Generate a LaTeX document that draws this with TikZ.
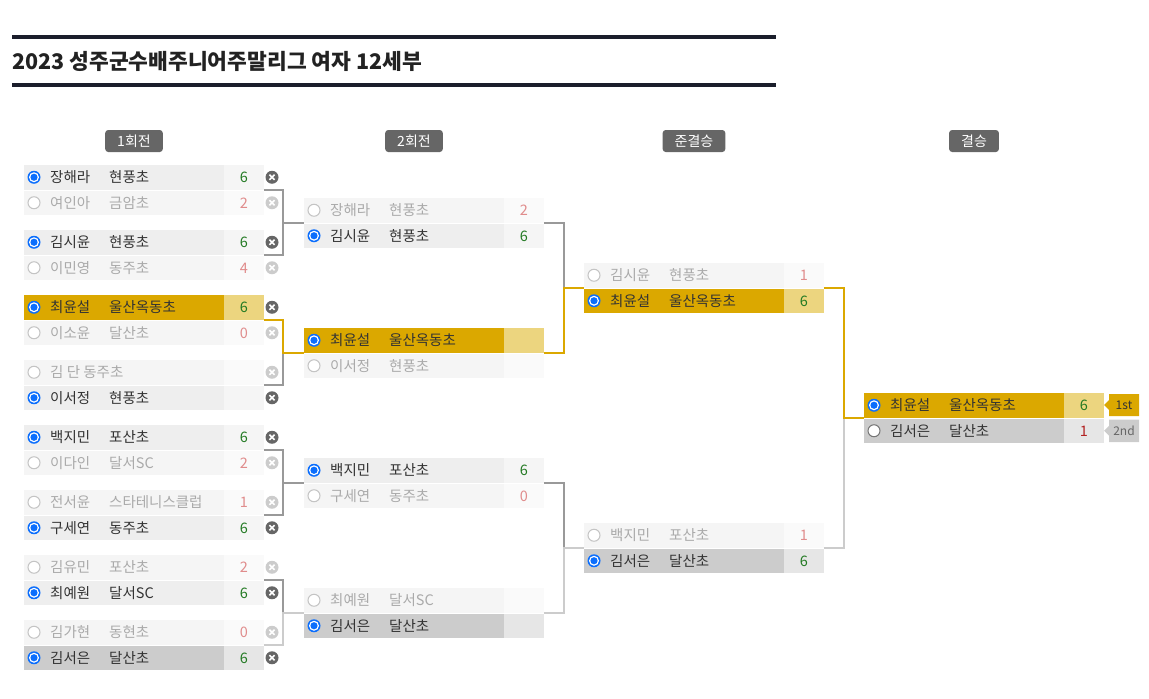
\documentclass[tikz,border=0pt]{standalone}
\usepackage{fontspec}
\setmainfont{Noto Sans CJK KR}
\definecolor{gold}{HTML}{DBA800}
\definecolor{goldl}{HTML}{ECD57F}
\definecolor{wbg}{HTML}{EEEEEE}
\definecolor{wsc}{HTML}{F5F5F5}
\definecolor{lbg}{HTML}{F5F5F5}
\definecolor{lsc}{HTML}{FAFAFA}
\definecolor{sbg}{HTML}{CCCCCC}
\definecolor{ssc}{HTML}{E6E6E6}
\definecolor{txt}{HTML}{333333}
\definecolor{ltxt}{HTML}{AAAAAA}
\definecolor{win}{HTML}{237A23}
\definecolor{lose}{HTML}{E08C8C}
\definecolor{losed}{HTML}{B22222}
\definecolor{rblue}{HTML}{0B6EFD}
\definecolor{radL}{HTML}{C4C4C4}
\definecolor{radD}{HTML}{767676}
\definecolor{cgray}{HTML}{999999}
\definecolor{connl}{HTML}{CCCCCC}
\definecolor{lbl}{HTML}{666666}
\definecolor{xd}{HTML}{666666}
\definecolor{xl}{HTML}{CCCCCC}
\definecolor{navy}{HTML}{1B1E2B}
\definecolor{ttl}{HTML}{222222}
\newcommand\setW{\def\nbg{wbg}\def\sbgc{wsc}\def\tc{txt}\def\scc{win}\def\rstyle{1}\def\rcol{radL}}
\newcommand\setL{\def\nbg{lbg}\def\sbgc{lsc}\def\tc{ltxt}\def\scc{lose}\def\rstyle{0}\def\rcol{radL}}
\newcommand\setG{\def\nbg{gold}\def\sbgc{goldl}\def\tc{txt}\def\scc{win}\def\rstyle{1}\def\rcol{radL}}
\newcommand\setS{\def\nbg{sbg}\def\sbgc{ssc}\def\tc{txt}\def\scc{win}\def\rstyle{1}\def\rcol{radL}}
\newcommand\setF{\def\nbg{sbg}\def\sbgc{ssc}\def\tc{txt}\def\scc{losed}\def\rstyle{0}\def\rcol{radD}}
\newcommand\radioC[2]{\fill[rblue] (#1,#2) circle (6.5); \fill[white] (#1,#2) circle (5); \fill[rblue] (#1,#2) circle (3.6);}
\newcommand\radioU[3]{\draw[#3, fill=white, line width=1] (#1,#2) circle (6);}
\newcommand\xicon[3]{\fill[#3] (#1,#2) circle (6.5);
  \draw[white, line width=1.7] (#1-2.6,#2-2.6) -- (#1+2.6,#2+2.6) (#1-2.6,#2+2.6) -- (#1+2.6,#2-2.6);}
\newcommand\prow[8]{%
  \csname set#4\endcsname
  \node[cell, fill=\nbg, minimum width=200] (#1) at (#2,#3) {};
  \node[cell, fill=\sbgc, minimum width=40] (#1s) at (#2+200,#3) {};
  \ifnum\rstyle=1 \radioC{#2+10}{#3+12.25}\else\radioU{#2+10}{#3+12.25}{\rcol}\fi
  \node[nm, text=\tc] (#1n) at (#2+26,#3+17.5) {#5};
  \node[nm, text=\tc] (#1t) at (#2+85,#3+17.5) {#6};
  \node[sc, text=\scc] (#1v) at (#2+220,#3+17.5) {#7};
  \ifcase#8 \xicon{#2+248}{#3+12.25}{xl}\or\xicon{#2+248}{#3+12.25}{xd}\else\fi
}
\tikzset{
  cell/.style={inner sep=0, outer sep=0, minimum height=24.5, anchor=north west},
  nm/.style={font=\fontsize{14.5}{17}\selectfont, inner sep=0, anchor=base west},
  sc/.style={font=\fontsize{14.5}{17}\selectfont, inner sep=0, anchor=base},
  mbox/.style={inner sep=0, outer sep=0, minimum width=240, minimum height=50, anchor=north west},
  cg/.style={draw=cgray, line width=2},
  cgo/.style={draw=gold, line width=2},
  clt/.style={draw=connl, line width=2},
  rlabel/.style={fill=lbl, text=white, rounded corners=3, inner xsep=12, inner ysep=0, minimum height=22, font=\fontsize{14}{16}\selectfont},
  tagtxt/.style={font=\fontsize{12}{14}\selectfont, inner sep=0},
}
\begin{document}
\begin{tikzpicture}[x=1pt, y=-1pt]
\useasboundingbox (0,0) rectangle (1149,699);
% title
\draw[navy, line width=3.5] (12,37) -- (776,37);
\draw[navy, line width=3.5] (12,85) -- (776,85);
\node[anchor=base west, inner sep=0, text=ttl, font=\fontsize{21.5}{25}\selectfont\bfseries] (title) at (12,69) {2023 성주군수배주니어주말리그 여자 12세부};
% round labels
\node[rlabel] (L1) at (134,141) {1회전};
\node[rlabel] (L2) at (414,141) {2회전};
\node[rlabel] (L3) at (694,141) {준결승};
\node[rlabel] (L4) at (974,141) {결승};
% match boxes
\node[mbox] (A1) at (24,165) {};
\node[mbox] (A2) at (24,230) {};
\node[mbox] (A3) at (24,295) {};
\node[mbox] (A4) at (24,360) {};
\node[mbox] (A5) at (24,425) {};
\node[mbox] (A6) at (24,490) {};
\node[mbox] (A7) at (24,555) {};
\node[mbox] (A8) at (24,620) {};
\node[mbox] (B1) at (304,198) {};
\node[mbox] (B2) at (304,328) {};
\node[mbox] (B3) at (304,458) {};
\node[mbox] (B4) at (304,588) {};
\node[mbox] (C1) at (584,263) {};
\node[mbox] (C2) at (584,523) {};
\node[mbox] (D1) at (864,393) {};
% round 1
\prow{a1a}{24}{165}{W}{장해라}{현풍초}{6}{1}
\prow{a1b}{24}{165+25.5}{L}{여인아}{금암초}{2}{0}
\prow{a2a}{24}{230}{W}{김시윤}{현풍초}{6}{1}
\prow{a2b}{24}{230+25.5}{L}{이민영}{동주초}{4}{0}
\prow{a3a}{24}{295}{G}{최윤설}{울산옥동초}{6}{1}
\prow{a3b}{24}{295+25.5}{L}{이소윤}{달산초}{0}{0}
\prow{a4a}{24}{360}{L}{김 단 동주초}{}{}{0}
\prow{a4b}{24}{360+25.5}{W}{이서정}{현풍초}{}{1}
\prow{a5a}{24}{425}{W}{백지민}{포산초}{6}{1}
\prow{a5b}{24}{425+25.5}{L}{이다인}{달서SC}{2}{0}
\prow{a6a}{24}{490}{L}{전서윤}{스타테니스클럽}{1}{0}
\prow{a6b}{24}{490+25.5}{W}{구세연}{동주초}{6}{1}
\prow{a7a}{24}{555}{L}{김유민}{포산초}{2}{0}
\prow{a7b}{24}{555+25.5}{W}{최예원}{달서SC}{6}{1}
\prow{a8a}{24}{620}{L}{김가현}{동현초}{0}{0}
\prow{a8b}{24}{620+25.5}{S}{김서은}{달산초}{6}{1}
% round 2
\prow{b1a}{304}{198}{L}{장해라}{현풍초}{2}{2}
\prow{b1b}{304}{198+25.5}{W}{김시윤}{현풍초}{6}{2}
\prow{b2a}{304}{328}{G}{최윤설}{울산옥동초}{}{2}
\prow{b2b}{304}{328+25.5}{L}{이서정}{현풍초}{}{2}
\prow{b3a}{304}{458}{W}{백지민}{포산초}{6}{2}
\prow{b3b}{304}{458+25.5}{L}{구세연}{동주초}{0}{2}
\prow{b4a}{304}{588}{L}{최예원}{달서SC}{}{2}
\prow{b4b}{304}{588+25.5}{S}{김서은}{달산초}{}{2}
% semis
\prow{c1a}{584}{263}{L}{김시윤}{현풍초}{1}{2}
\prow{c1b}{584}{263+25.5}{G}{최윤설}{울산옥동초}{6}{2}
\prow{c2a}{584}{523}{L}{백지민}{포산초}{1}{2}
\prow{c2b}{584}{523+25.5}{S}{김서은}{달산초}{6}{2}
% final
\prow{d1a}{864}{393}{G}{최윤설}{울산옥동초}{6}{2}
\prow{d1b}{864}{393+25.5}{F}{김서은}{달산초}{1}{2}
% tags
\fill[gold] (1109,394) -- (1139,394) -- (1139,416) -- (1109,416) -- (1109,410) -- (1104,405) -- (1109,400) -- cycle;
\node[tagtxt, text=txt] (tag1) at (1124,405) {1st};
\fill[sbg] (1109,419.5) -- (1139,419.5) -- (1139,442) -- (1109,442) -- (1109,435.75) -- (1104,430.75) -- (1109,425.75) -- cycle;
\node[tagtxt, text=lbl] (tag2) at (1124,430.75) {2nd};
% connectors round 1 -> 2
\draw[cg] (A1.east) -- ++(19,0) |- (B1.west);
\draw[cg] (A2.east) -- ++(19,0) |- (B1.west);
\draw[cg] (A4.east) -- ++(19,0) |- (B2.west);
\draw[cgo] (A3.east) -- ++(19,0) |- (B2.west);
\draw[cg] (A5.east) -- ++(19,0) |- (B3.west);
\draw[cg] (A6.east) -- ++(19,0) |- (B3.west);
\draw[cg] (A7.east) -- ++(19,0) |- (B4.west);
\draw[clt] (A8.east) -- ++(19,0) |- (B4.west);
% round 2 -> semis
\draw[cg] (B1.east) -- ++(19.5,0) |- (C1.west);
\draw[cgo] (B2.east) -- ++(19.5,0) |- (C1.west);
\draw[cg] (B3.east) -- ++(19.5,0) |- (C2.west);
\draw[clt] (B4.east) -- ++(19.5,0) |- (C2.west);
% semis -> final
\draw[clt] (C2.east) -- ++(19.5,0) |- (D1.west);
\draw[cgo] (C1.east) -- ++(19.5,0) |- (D1.west);
\end{tikzpicture}
\end{document}
